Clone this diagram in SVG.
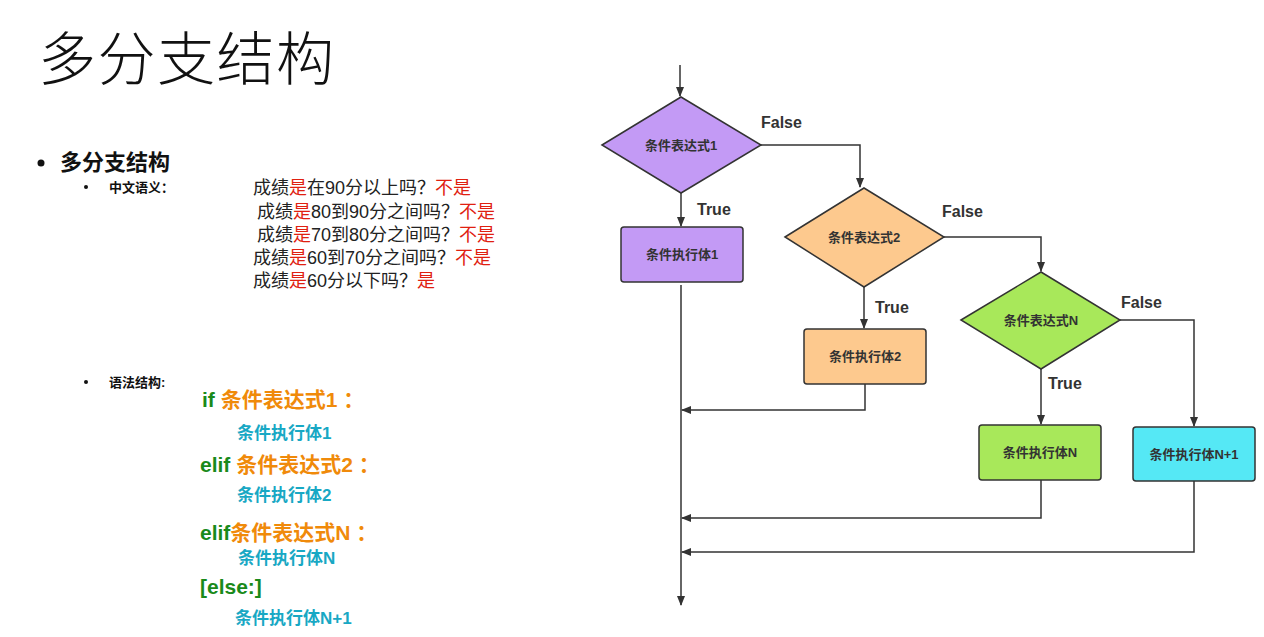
<svg xmlns="http://www.w3.org/2000/svg" width="1264" height="637" viewBox="0 0 1264 637">
<defs>
<marker id="ah" markerWidth="10" markerHeight="10" refX="9" refY="5" orient="auto" markerUnits="userSpaceOnUse"><path d="M0,1 L10,5 L0,9 Z" fill="#333"/></marker>
<style>
text{font-family:"Liberation Sans","Noto Sans CJK SC",sans-serif}
.ln{fill:none;stroke:#333;stroke-width:1.5;marker-end:url(#ah)}
.shape{stroke:#333;stroke-width:1.5}
.nt{font-size:13px;font-weight:bold;fill:#333;text-anchor:middle}
.lb{font-size:16px;font-weight:bold;fill:#333}
.q{font-size:18px;fill:#222}
.r{fill:#e02010}
.g{fill:#1a8a1a}
.o{fill:#f08a0a}
.c{fill:#18a8c4;font-size:17px;font-weight:bold}
.k{font-size:21px;font-weight:bold}
</style>
</defs>
<rect width="1264" height="637" fill="#fff"/>
<text x="38" y="80" font-size="58" font-weight="300" letter-spacing="1.5" fill="#111" font-family="Noto Sans CJK SC, sans-serif">多分支结构</text>
<circle cx="41" cy="163" r="3.5" fill="#111"/>
<text x="60" y="170" font-size="22" font-weight="bold" fill="#111">多分支结构</text>
<circle cx="86" cy="187" r="2" fill="#111"/>
<text x="109" y="192" font-size="13" font-weight="bold" fill="#111">中文语义：</text>
<text x="253" y="194" class="q">成绩<tspan class="r">是</tspan>在90分以上吗？<tspan class="r">不是</tspan></text>
<text x="257" y="218" class="q">成绩<tspan class="r">是</tspan>80到90分之间吗？<tspan class="r">不是</tspan></text>
<text x="257" y="241" class="q">成绩<tspan class="r">是</tspan>70到80分之间吗？<tspan class="r">不是</tspan></text>
<text x="253" y="264" class="q">成绩<tspan class="r">是</tspan>60到70分之间吗？<tspan class="r">不是</tspan></text>
<text x="253" y="287" class="q">成绩<tspan class="r">是</tspan>60分以下吗？<tspan class="r">是</tspan></text>
<circle cx="86" cy="382" r="2" fill="#111"/>
<text x="109" y="387" font-size="13" font-weight="bold" fill="#111">语法结构:</text>
<text x="202" y="407" class="k"><tspan class="g">if </tspan><tspan class="o">条件表达式1 ：</tspan></text>
<text x="237" y="439" class="c">条件执行体1</text>
<text x="200" y="472" class="k"><tspan class="g">elif </tspan><tspan class="o">条件表达式2 ：</tspan></text>
<text x="237" y="501" class="c">条件执行体2</text>
<text x="200" y="540" class="k"><tspan class="g">elif</tspan><tspan class="o">条件表达式N ：</tspan></text>
<text x="238" y="564" class="c">条件执行体N</text>
<text x="200" y="594" class="k g">[else:]</text>
<text x="235" y="624" class="c">条件执行体N+1</text>

<g id="connectors">
<path class="ln" d="M680,65 V96"/>
<path class="ln" d="M681,193 V226"/>
<text x="697" y="215" class="lb">True</text>
<path class="ln" d="M761,145 H860 V187"/>
<text x="761" y="128" class="lb">False</text>
<path class="ln" d="M864,287 V328"/>
<text x="875" y="313" class="lb">True</text>
<path class="ln" d="M944,237 H1041 V271"/>
<text x="942" y="217" class="lb">False</text>
<path class="ln" d="M1041,369 V424"/>
<text x="1048" y="389" class="lb">True</text>
<path class="ln" d="M1120,320 H1194 V426"/>
<text x="1121" y="308" class="lb">False</text>
<path class="ln" d="M681,285 V605"/>
<path class="ln" d="M865,384 V410 H682"/>
<path class="ln" d="M1041,480 V518 H682"/>
<path class="ln" d="M1194,481 V552 H682"/>
</g>
<g id="d1"><path class="shape" fill="#c39af5" d="M602,145 L681,97 L761,145 L681,193 Z"/><text x="681" y="150" class="nt">条件表达式1</text></g>
<g id="r1"><rect class="shape" fill="#c39af5" x="621" y="227" width="122" height="55" rx="3"/><text x="682" y="259" class="nt">条件执行体1</text></g>
<g id="d2"><path class="shape" fill="#fdc98e" d="M785,237 L864,188 L944,237 L864,287 Z"/><text x="864" y="242" class="nt">条件表达式2</text></g>
<g id="r2"><rect class="shape" fill="#fdc98e" x="804" y="329" width="122" height="55" rx="3"/><text x="865" y="361" class="nt">条件执行体2</text></g>
<g id="d3"><path class="shape" fill="#a8e85a" d="M961,320 L1041,272 L1120,320 L1041,369 Z"/><text x="1041" y="325" class="nt">条件表达式N</text></g>
<g id="r3"><rect class="shape" fill="#a8e85a" x="979" y="425" width="122" height="55" rx="3"/><text x="1040" y="457" class="nt">条件执行体N</text></g>
<g id="r4"><rect class="shape" fill="#55e8f5" x="1133" y="427" width="122" height="54" rx="3"/><text x="1194" y="459" class="nt">条件执行体N+1</text></g>
</svg>
